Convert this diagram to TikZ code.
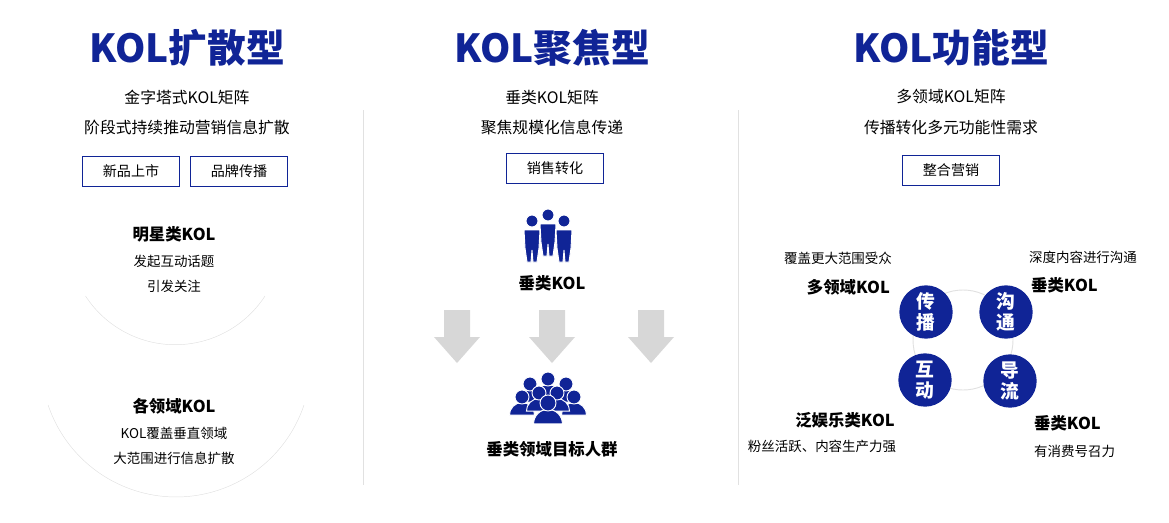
\documentclass[tikz,border=0pt]{standalone}
\usepackage{fontspec}
\setmainfont{Noto Sans CJK SC}
\usepackage{tikz}
\usetikzlibrary{positioning}
\definecolor{kolblue}{RGB}{16,36,150}
\definecolor{lightline}{RGB}{225,225,225}
\definecolor{arrowgray}{RGB}{215,215,215}
\tikzset{
  title/.style={text=kolblue,font=\bfseries\fontsize{33}{33}\selectfont},
  sub/.style={font=\fontsize{13.5}{14}\selectfont},
  tag/.style={draw=kolblue,thick,minimum width=2.9cm,minimum height=0.9cm,font=\fontsize{12}{12}\selectfont},
  kol/.style={font=\bfseries\fontsize{14}{14}\selectfont},
  note/.style={font=\fontsize{11.5}{12}\selectfont},
  ball/.style={circle,fill=kolblue,text=white,minimum size=1.6cm,inner sep=0pt,align=center,
    font=\bfseries\fontsize{16}{18}\selectfont},
  downarrow/.style={fill=arrowgray}
}
\begin{document}
\begin{tikzpicture}[x={(0.03cm,0)},y={(0,-0.03cm)}]
        \useasboundingbox (0,0) rectangle (1169,522);
        % Dividers
        \draw [lightline] (363,110) -- (363,485);
        \draw [lightline] (738,110) -- (738,485);
        % Left column
        \node[title] (t1) at (187,48) {KOL扩散型};
        \node[sub] (s1a) at (187,97) {金字塔式KOL矩阵};
        \node[sub] (s1b) at (187,127) {阶段式持续推动营销信息扩散};
        \node[tag] (b1) at (131,171) {新品上市};
        \node[tag] (b2) at (239,171) {品牌传播};
        \draw [lightline] (265,296) arc (-33:-147:3.21cm);
        \draw [lightline] (304,405) arc (-18.6:-161.4:4.05cm);
        \node[kol] (k1) at (174,234) {明星类KOL};
        \node[note] (n1a) at (174,261) {发起互动话题};
        \node[note] (n1b) at (174,286) {引发关注};
        \node[kol] (k2) at (174,406) {各领域KOL};
        \node[note] (n2a) at (174,433) {KOL覆盖垂直领域};
        \node[note] (n2b) at (174,458) {大范围进行信息扩散};
        % Middle column
        \node[title] (t2) at (552,48) {KOL聚焦型};
        \node[sub] (s2a) at (552,97) {垂类KOL矩阵};
        \node[sub] (s2b) at (552,127) {聚焦规模化信息传递};
        \node[tag] (b3) at (555,168) {销售转化};
        % team icon
        \foreach \px/\py in {532/221,564/221,548/215}{
          \fill[kolblue,draw=white,thick] (\px,\py) circle (6);
          \fill[kolblue,draw=white,thick] (\px-8,\py+9) -- (\px+8,\py+9) -- (\px+7,\py+27)
            -- (\px+5,\py+41) -- (\px+1,\py+41) -- (\px,\py+29) -- (\px-1,\py+41)
            -- (\px-5,\py+41) -- (\px-7,\py+27) -- cycle;
        }
        \node[kol] (k3) at (552,283) {垂类KOL};
        \foreach \ax in {457,552,651}{
          \fill[downarrow] (\ax-13,310) -- (\ax+13,310) -- (\ax+13,337) -- (\ax+23,337)
            -- (\ax,363) -- (\ax-23,337) -- (\ax-13,337) -- cycle;
        }
        % crowd icon
        \foreach \px/\py/\r in {530/384/7,548/379/7,566/384/7,522/397/7,574/397/7,539/393/7,557/393/7,548/403/8}{
          \fill[kolblue,draw=white,thick] (\px-1.8*\r,\py+2.6*\r) arc (180:0:1.8*\r*0.03cm) -- cycle;
          \fill[kolblue,draw=white,thick] (\px,\py) circle (\r);
        }
        \node[kol] (k4) at (552,449) {垂类领域目标人群};
        % Right column
        \node[title] (t3) at (951,48) {KOL功能型};
        \node[sub] (s3a) at (951,97) {多领域KOL矩阵};
        \node[sub] (s3b) at (951,127) {传播转化多元功能性需求};
        \node[tag] (b4) at (951,170) {整合营销};
        \draw [lightline,thick] (963,340) circle (1.5cm);
        \node[ball] (c1) at (926,312) {传\\播};
        \node[ball] (c2) at (1006,312) {沟\\通};
        \node[ball] (c3) at (925,380) {互\\动};
        \node[ball] (c4) at (1010,381) {导\\流};
        \node[note] (n3a) at (838,258) {覆盖更大范围受众};
        \node[kol,anchor=east] (k5) at (894,287) {多领域KOL};
        \node[note] (n3b) at (1083,257) {深度内容进行沟通};
        \node[kol,anchor=west] (k6) at (1027,285) {垂类KOL};
        \node[kol] (k7) at (845,420) {泛娱乐类KOL};
        \node[note] (n3c) at (822,446) {粉丝活跃、内容生产力强};
        \node[kol,anchor=west] (k8) at (1030,423) {垂类KOL};
        \node[note,anchor=west] (n3d) at (1030,451) {有消费号召力};
\end{tikzpicture}
\end{document}
